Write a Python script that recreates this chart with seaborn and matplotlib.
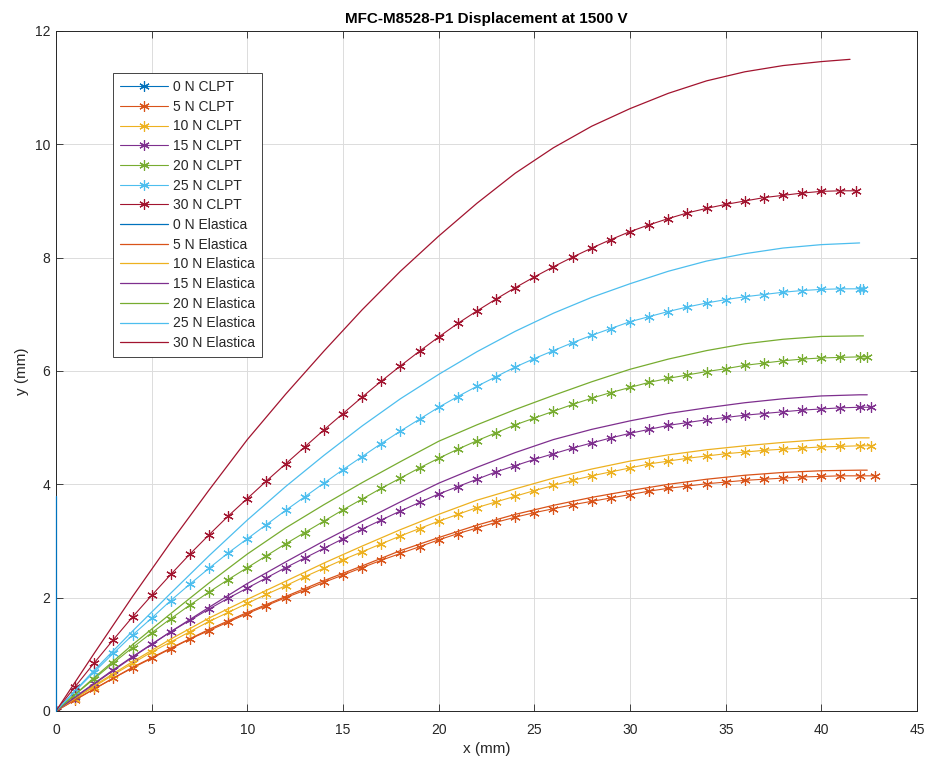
import matplotlib
matplotlib.use("Agg")
import matplotlib.pyplot as plt
import seaborn as sns

# valores (mm)
forcas = [0, 5, 10, 15, 20, 25, 30]
cores = ['#0072BD', '#D95319', '#EDB120', '#7E2F8E', '#77AC30', '#4DBEEE', '#A2142F']

x_1mm = list(range(43))          # 0 .. 42
x_2mm = list(range(0, 43, 2))    # 0 .. 42

# CLPT (com marcadores)
x_clpt_0 = [0]
y_clpt_0 = [0]
x_clpt_5 = x_1mm + [42.8]
y_clpt_5 = [0, 0.20, 0.39, 0.58, 0.76, 0.93, 1.10, 1.27, 1.42, 1.57, 1.72, 1.86, 2.00, 2.13, 2.27,
            2.40, 2.53, 2.66, 2.78, 2.90, 3.02, 3.13, 3.23, 3.33, 3.42, 3.50, 3.57, 3.64, 3.70,
            3.76, 3.82, 3.88, 3.93, 3.97, 4.01, 4.04, 4.07, 4.09, 4.11, 4.13, 4.14, 4.15, 4.15, 4.15]
x_clpt_10 = x_1mm + [42.6]
y_clpt_10 = [0, 0.22, 0.43, 0.64, 0.84, 1.04, 1.22, 1.40, 1.58, 1.74, 1.90, 2.06, 2.21, 2.37, 2.52,
             2.67, 2.81, 2.95, 3.09, 3.22, 3.35, 3.47, 3.59, 3.69, 3.79, 3.89, 3.98, 4.07, 4.15,
             4.22, 4.29, 4.36, 4.41, 4.46, 4.50, 4.54, 4.57, 4.60, 4.62, 4.64, 4.66, 4.67, 4.68, 4.68]
x_clpt_15 = x_1mm + [42.6]
y_clpt_15 = [0, 0.25, 0.49, 0.73, 0.96, 1.18, 1.40, 1.60, 1.80, 1.99, 2.17, 2.35, 2.53, 2.70, 2.87,
             3.04, 3.21, 3.37, 3.53, 3.68, 3.83, 3.96, 4.09, 4.22, 4.33, 4.44, 4.54, 4.64, 4.73,
             4.82, 4.90, 4.97, 5.04, 5.09, 5.14, 5.18, 5.22, 5.25, 5.28, 5.31, 5.33, 5.35, 5.36, 5.36]
x_clpt_20 = x_1mm + [42.4]
y_clpt_20 = [0, 0.29, 0.57, 0.85, 1.12, 1.38, 1.63, 1.87, 2.10, 2.32, 2.53, 2.74, 2.95, 3.15, 3.35,
             3.55, 3.74, 3.93, 4.11, 4.29, 4.46, 4.62, 4.77, 4.91, 5.05, 5.17, 5.29, 5.41, 5.52,
             5.62, 5.71, 5.80, 5.87, 5.93, 5.99, 6.04, 6.10, 6.14, 6.18, 6.21, 6.23, 6.24, 6.25, 6.25]
x_clpt_25 = x_1mm + [42.2]
y_clpt_25 = [0, 0.35, 0.69, 1.02, 1.34, 1.64, 1.95, 2.24, 2.52, 2.79, 3.04, 3.29, 3.54, 3.78, 4.02,
             4.26, 4.49, 4.72, 4.94, 5.15, 5.36, 5.55, 5.73, 5.90, 6.07, 6.22, 6.36, 6.50, 6.63,
             6.75, 6.87, 6.96, 7.05, 7.13, 7.20, 7.26, 7.31, 7.35, 7.39, 7.42, 7.44, 7.45, 7.45, 7.45]
x_clpt_30 = x_1mm[:42] + [41.8]
y_clpt_30 = [0, 0.43, 0.85, 1.26, 1.66, 2.04, 2.41, 2.77, 3.11, 3.44, 3.75, 4.06, 4.36, 4.66, 4.96,
             5.25, 5.54, 5.82, 6.09, 6.35, 6.60, 6.84, 7.06, 7.27, 7.47, 7.66, 7.84, 8.01, 8.17,
             8.32, 8.46, 8.58, 8.69, 8.79, 8.87, 8.94, 9.00, 9.06, 9.10, 9.14, 9.17, 9.18, 9.18]

# Elastica (so linha)
x_ela_0 = [0, 0]
y_ela_0 = [0, 3.8]
x_ela_5 = x_2mm + [42.4]
y_ela_5 = [0, 0.39, 0.77, 1.11, 1.44, 1.74, 2.02, 2.30, 2.56, 2.83, 3.06, 3.28, 3.47, 3.63, 3.77,
           3.89, 4.00, 4.09, 4.16, 4.21, 4.24, 4.25, 4.25]
x_ela_10 = x_2mm + [42.5]
y_ela_10 = [0, 0.45, 0.87, 1.27, 1.64, 1.97, 2.29, 2.61, 2.91, 3.20, 3.47, 3.72, 3.92, 4.11, 4.27,
            4.41, 4.52, 4.61, 4.68, 4.74, 4.79, 4.82, 4.82]
x_ela_15 = x_2mm + [42.4]
y_ela_15 = [0, 0.48, 0.95, 1.40, 1.83, 2.25, 2.63, 3.00, 3.35, 3.69, 4.02, 4.30, 4.56, 4.79, 4.97,
            5.12, 5.25, 5.35, 5.44, 5.51, 5.56, 5.58, 5.58]
x_ela_20 = x_2mm + [42.2]
y_ela_20 = [0, 0.59, 1.17, 1.72, 2.26, 2.77, 3.23, 3.64, 4.03, 4.40, 4.76, 5.05, 5.32, 5.57, 5.81,
            6.03, 6.21, 6.36, 6.48, 6.56, 6.61, 6.62, 6.62]
x_ela_25 = x_2mm
y_ela_25 = [0, 0.72, 1.41, 2.08, 2.74, 3.37, 3.96, 4.51, 5.03, 5.51, 5.94, 6.34, 6.70, 7.02, 7.30,
            7.54, 7.76, 7.94, 8.07, 8.17, 8.23, 8.26]
x_ela_30 = x_2mm[:21] + [41.5]
y_ela_30 = [0, 1.02, 2.02, 2.98, 3.90, 4.79, 5.59, 6.35, 7.08, 7.76, 8.38, 8.96, 9.49, 9.94, 10.32,
            10.63, 10.90, 11.12, 11.28, 11.39, 11.46, 11.50]

clpt = [(x_clpt_0, y_clpt_0), (x_clpt_5, y_clpt_5), (x_clpt_10, y_clpt_10), (x_clpt_15, y_clpt_15),
        (x_clpt_20, y_clpt_20), (x_clpt_25, y_clpt_25), (x_clpt_30, y_clpt_30)]
elastica = [(x_ela_0, y_ela_0), (x_ela_5, y_ela_5), (x_ela_10, y_ela_10), (x_ela_15, y_ela_15),
            (x_ela_20, y_ela_20), (x_ela_25, y_ela_25), (x_ela_30, y_ela_30)]

sns.set_theme(style='ticks')
plt.rcParams['font.family'] = ['Liberation Sans', 'DejaVu Sans']
cinza = '#262626'

fig = plt.figure(figsize=(9.35, 7.66), dpi=100)
ax = fig.add_axes([56 / 935, 1 - 711 / 766, 861 / 935, 680 / 766])

for f, c, (xs, ys) in zip(forcas, cores, clpt):
    sns.lineplot(x=xs, y=ys, ax=ax, color=c, linewidth=0.8, marker=(6, 2, 0), markersize=7.5,
                 markeredgecolor=c, markeredgewidth=0.85, estimator=None, sort=False,
                 label=f'{f} N CLPT')

for f, c, (xs, ys) in zip(forcas, cores, elastica):
    sns.lineplot(x=xs, y=ys, ax=ax, color=c, linewidth=0.9, estimator=None, sort=False,
                 label=f'{f} N Elastica', zorder=3 if f == 0 else 2, clip_on=(f != 0))

ax.set_xlim(0, 45)
ax.set_ylim(0, 12)
ax.set_xticks(range(0, 46, 5))
ax.set_yticks(range(0, 13, 2))
ax.grid(True, color='#dcdcdc', linewidth=0.7)
ax.set_axisbelow(True)
ax.tick_params(direction='in', top=True, right=True, length=5, width=0.6,
               colors=cinza, labelsize=10)
ax.tick_params(axis='x', pad=9)
ax.tick_params(axis='y', pad=4)
for s in ax.spines.values():
    s.set_visible(True)
    s.set_color(cinza)
    s.set_linewidth(0.7)

ax.set_title('MFC-M8528-P1 Displacement at 1500 V', fontsize=11, fontweight='bold',
             color='black', pad=6)
ax.set_xlabel('x (mm)', fontsize=11, color=cinza, labelpad=3)
ax.set_ylabel('y (mm)', fontsize=11, color=cinza, labelpad=4)

# legenda com as linhas desenhadas
rotulos = [f'{f} N CLPT' for f in forcas] + [f'{f} N Elastica' for f in forcas]
linhas = {l.get_label(): l for l in ax.get_lines()}
leg = ax.legend([linhas[r] for r in rotulos], rotulos, loc='upper left',
                bbox_to_anchor=(0.0662, 0.938), fontsize=10, frameon=True,
                fancybox=False, framealpha=1, edgecolor=cinza, borderpad=0.5,
                labelspacing=0.41, handlelength=3.45, handletextpad=0.36, borderaxespad=0)
leg.get_frame().set_linewidth(0.6)

fig.savefig('out.png', dpi=100)
